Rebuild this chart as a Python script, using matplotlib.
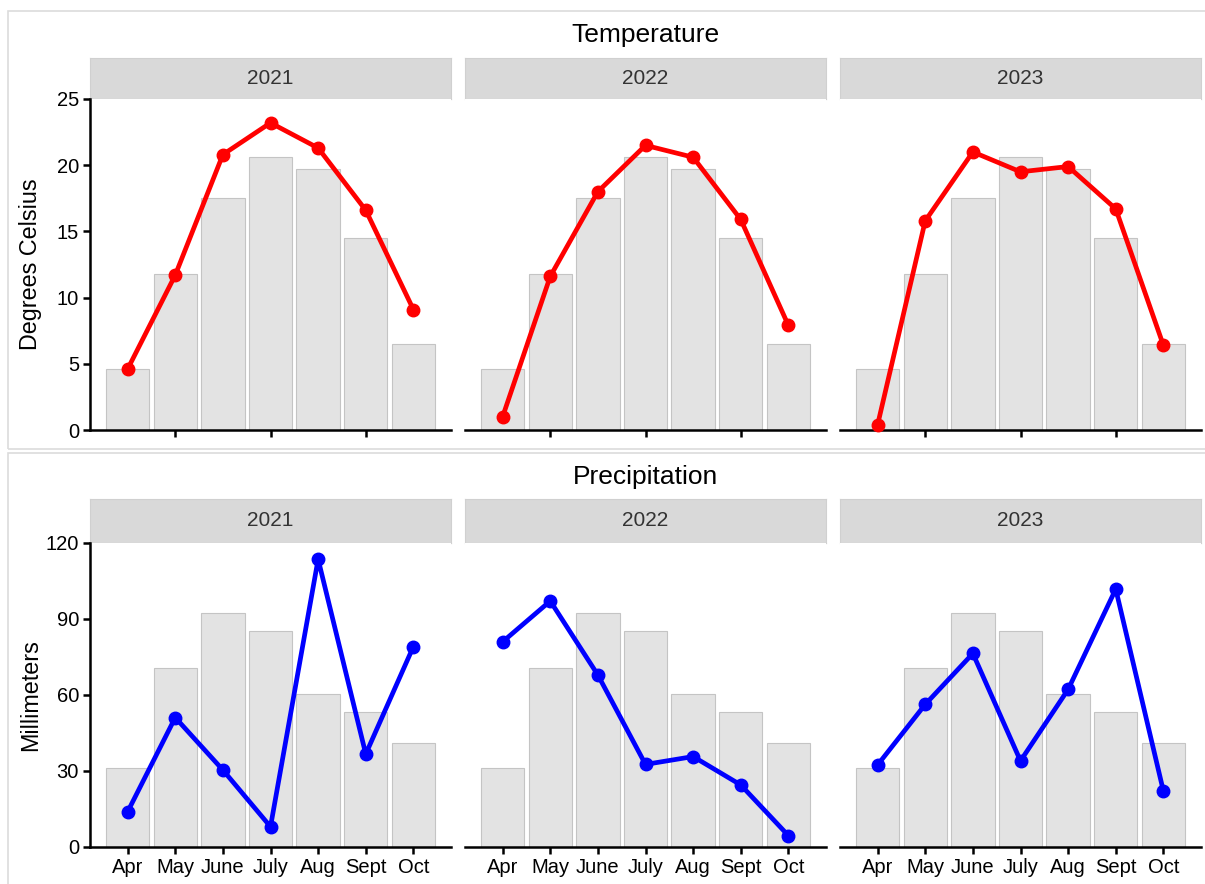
import matplotlib
matplotlib.use('Agg')
import matplotlib.pyplot as plt
from matplotlib.patches import Rectangle

plt.rcParams['font.family'] = ['Liberation Sans', 'DejaVu Sans']

months = ['Apr', 'May', 'June', 'July', 'Aug', 'Sept', 'Oct']
years = ['2021', '2022', '2023']

# 30-year monthly normals (grey bars)
temp_normal = [4.6, 11.8, 17.5, 20.6, 19.7, 14.5, 6.5]
precip_normal = [31.1, 70.8, 92.2, 85.1, 60.4, 53.2, 40.9]

# observed monthly values per season
temp_2021 = [4.6, 11.7, 20.8, 23.2, 21.3, 16.6, 9.1]
temp_2022 = [1.0, 11.6, 18.0, 21.5, 20.6, 15.9, 7.9]
temp_2023 = [0.4, 15.8, 21.0, 19.5, 19.9, 16.7, 6.4]
precip_2021 = [13.9, 51.1, 30.4, 8.0, 113.6, 36.7, 79.1]
precip_2022 = [81.0, 97.1, 67.9, 32.6, 35.7, 24.5, 4.5]
precip_2023 = [32.4, 56.3, 76.4, 34.0, 62.2, 101.8, 22.1]

W, H = 1205, 884
fig = plt.figure(figsize=(W / 100, H / 100), dpi=100)


def rect(x0, y0, x1, y1):
    return [x0 / W, 1 - y1 / H, (x1 - x0) / W, (y1 - y0) / H]


cols = [(90, 451), (465, 826), (840, 1201)]

rows = [
    dict(title='Temperature', ylabel='Degrees Celsius', normal=temp_normal,
         obs=[temp_2021, temp_2022, temp_2023], color='#ff0000',
         ylim=25, yticks=[0, 5, 10, 15, 20, 25],
         frame=(8, 11, 1210, 449), title_y=35,
         strip=(58, 99), axes=(99, 430), xticks=[1, 3, 5], xlabels=False),
    dict(title='Precipitation', ylabel='Millimeters', normal=precip_normal,
         obs=[precip_2021, precip_2022, precip_2023], color='#0000ff',
         ylim=120, yticks=[0, 30, 60, 90, 120],
         frame=(8, 453, 1210, 890), title_y=477,
         strip=(499, 543), axes=(543, 847), xticks=list(range(7)), xlabels=True),
]

for row in rows:
    fx0, fy0, fx1, fy1 = row['frame']
    fig.patches.append(Rectangle((fx0 / W, 1 - fy1 / H), (fx1 - fx0) / W, (fy1 - fy0) / H,
                                 transform=fig.transFigure, fill=False,
                                 edgecolor='#dcdcdc', linewidth=1.2))
    fig.text((cols[0][0] + cols[2][1]) / 2 / W, 1 - row['title_y'] / H, row['title'],
             ha='center', va='center', fontsize=19, color='black')

    for i, (x0, x1) in enumerate(cols):
        # facet strip
        sax = fig.add_axes(rect(x0, row['strip'][0], x1, row['strip'][1]))
        sax.set_facecolor('#d9d9d9')
        for s in sax.spines.values():
            s.set_color('#d0d0d0')
            s.set_linewidth(0.8)
        sax.set_xticks([])
        sax.set_yticks([])
        sax.text(0.5, 0.5, years[i], ha='center', va='center', fontsize=15,
                 color='#333333', transform=sax.transAxes)

        ax = fig.add_axes(rect(x0, row['axes'][0], x1, row['axes'][1]))
        xs = range(len(months))
        ax.bar(xs, row['normal'], width=0.91, color='#e3e3e3',
               edgecolor='#c4c4c4', linewidth=0.8, zorder=1)
        ax.plot(xs, row['obs'][i], color=row['color'], linewidth=3.4,
                marker='o', markersize=9, zorder=3, clip_on=False)
        ax.set_xlim(-0.79, 6.79)
        ax.set_ylim(0, row['ylim'])

        for s in ['top', 'right']:
            ax.spines[s].set_visible(False)
        ax.spines['bottom'].set_linewidth(1.8)
        ax.spines['left'].set_linewidth(1.8)
        ax.tick_params(axis='both', direction='out', length=5, width=1.8,
                       colors='black', labelsize=14.5, pad=3)

        ax.set_xticks(row['xticks'])
        if row['xlabels']:
            ax.set_xticklabels([months[k] for k in row['xticks']])
        else:
            ax.set_xticklabels([])

        if i == 0:
            ax.set_yticks(row['yticks'])
            ax.set_ylabel(row['ylabel'], fontsize=16.8)
            ax.yaxis.set_label_coords((42 - x0) / (x1 - x0), 0.5)
        else:
            ax.spines['left'].set_visible(False)
            ax.set_yticks([])

fig.savefig('out.png', dpi=100, facecolor='white')
